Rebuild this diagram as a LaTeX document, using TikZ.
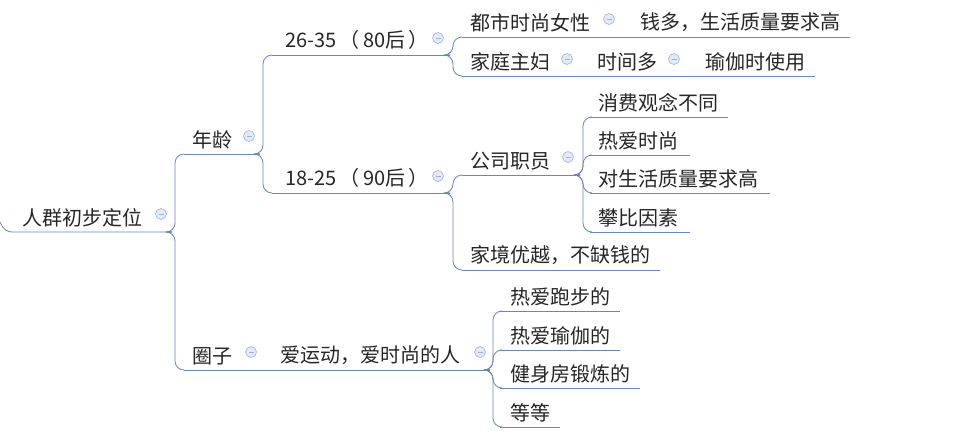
\documentclass[tikz,border=0pt]{standalone}
\usepackage{fontspec}
\setmainfont{Noto Sans CJK SC}
\begin{document}
\begin{tikzpicture}[x=1pt,y=-1pt,
  lnk/.style={draw=lnc,line width=0.8pt,rounded corners=9pt},
  ul/.style={draw=lnc,line width=0.8pt},
  txt/.style={anchor=south west,inner xsep=0pt,inner ysep=5pt,text=black!85,font=\fontsize{20}{22}\selectfont},
  fold/.style={circle,minimum size=11pt,inner sep=0pt,fill=foldf,draw=foldd,line width=0.6pt,
    path picture={\draw[foldd,line width=0.8pt] ([xshift=-2.5pt]path picture bounding box.center)--([xshift=2.5pt]path picture bounding box.center);}}]
\definecolor{lnc}{HTML}{6A86C0}
\definecolor{foldf}{HTML}{E2EAF7}
\definecolor{foldd}{HTML}{9FB4DC}
\useasboundingbox[fill=white] (0,0) rectangle (974,440);
% nodes: text
\node[txt] (root) at (22,232) {人群初步定位};
\node[txt] (age) at (192,154) {年龄};
\node[txt] (circ) at (192,370) {圈子};
\node[txt] (sport) at (280,370) {爱运动，爱时尚的人};
\node[txt] (a1) at (285,55) {26-35\,（\,80后\,）};
\node[txt] (a2) at (285,193) {18-25\,（\,90后\,）};
\node[txt] (w1) at (470,37) {都市时尚女性};
\node[txt] (w2) at (640,37) {钱多，生活质量要求高};
\node[txt] (h1) at (470,76) {家庭主妇};
\node[txt] (h2) at (597,76) {时间多};
\node[txt] (h3) at (705,76) {瑜伽时使用};
\node[txt] (emp) at (470,175) {公司职员};
\node[txt] (rich) at (470,270) {家境优越，不缺钱的};
\node[txt] (e1) at (598,117) {消费观念不同};
\node[txt] (e2) at (598,155) {热爱时尚};
\node[txt] (e3) at (598,193) {对生活质量要求高};
\node[txt] (e4) at (598,232) {攀比因素};
\node[txt] (s1) at (510,311) {热爱跑步的};
\node[txt] (s2) at (510,350) {热爱瑜伽的};
\node[txt] (s3) at (510,388) {健身房锻炼的};
\node[txt] (s4) at (510,427) {等等};
% underline end points
\coordinate (rootE) at (172,232);
\coordinate (ageS) at (184,154); \coordinate (ageE) at (260,154);
\coordinate (circS) at (184,370); \coordinate (circE) at (262,370);
\coordinate (sportS) at (272,370); \coordinate (sportE) at (490,370);
\coordinate (a1S) at (272,55); \coordinate (a1E) at (450,55);
\coordinate (a2S) at (272,193); \coordinate (a2E) at (450,193);
\coordinate (w1S) at (462,37); \coordinate (w1E) at (622,37);
\coordinate (w2S) at (628,37); \coordinate (w2E) at (850,37);
\coordinate (h1S) at (462,76); \coordinate (h1E) at (580,76);
\coordinate (h2S) at (585,76); \coordinate (h2E) at (687,76);
\coordinate (h3S) at (693,76); \coordinate (h3E) at (815,76);
\coordinate (empS) at (462,175); \coordinate (empE) at (580,175);
\coordinate (richS) at (462,270); \coordinate (richE) at (660,270);
\coordinate (e1S) at (590,117); \coordinate (e1E) at (728,117);
\coordinate (e2S) at (590,155); \coordinate (e2E) at (690,155);
\coordinate (e3S) at (590,193); \coordinate (e3E) at (770,193);
\coordinate (e4S) at (590,232); \coordinate (e4E) at (690,232);
\coordinate (s1S) at (500,311); \coordinate (s1E) at (620,311);
\coordinate (s2S) at (500,350); \coordinate (s2E) at (620,350);
\coordinate (s3S) at (500,388); \coordinate (s3E) at (640,388);
\coordinate (s4S) at (500,427); \coordinate (s4E) at (560,427);
% underlines
\draw[ul] (0,222) .. controls (4,230) and (6,232) .. (14,232) -- (rootE);
\foreach \n in {age,circ,sport,a1,a2,w1,w2,h1,h2,h3,emp,rich,e1,e2,e3,e4,s1,s2,s3,s4}
  \draw[ul] (\n S) -- (\n E);
% connectors
\foreach \p/\c in {rootE/ageS,rootE/circS,ageE/a1S,ageE/a2S,a1E/w1S,a1E/h1S,a2E/empS,a2E/richS,
  empE/e1S,empE/e2S,empE/e3S,empE/e4S,sportE/s1S,sportE/s2S,sportE/s3S,sportE/s4S}
  \draw[lnk] (\p) -- ++(3,0) |- (\c);
\draw[ul] (circE) -- (sportS);
\draw[ul] (w1E) -- (w2S);
\draw[ul] (h1E) -- (h2S);
\draw[ul] (h2E) -- (h3S);
% fold markers
\node[fold] (f0) at (161,214) {};
\node[fold] (f1) at (249,136) {};
\node[fold] (f2) at (251,352) {};
\node[fold] (f3) at (480,352) {};
\node[fold] (f4) at (438,38) {};
\node[fold] (f5) at (438,176) {};
\node[fold] (f6) at (609,19) {};
\node[fold] (f7) at (567,59) {};
\node[fold] (f8) at (674,59) {};
\node[fold] (f9) at (568,157) {};
\end{tikzpicture}
\end{document}
